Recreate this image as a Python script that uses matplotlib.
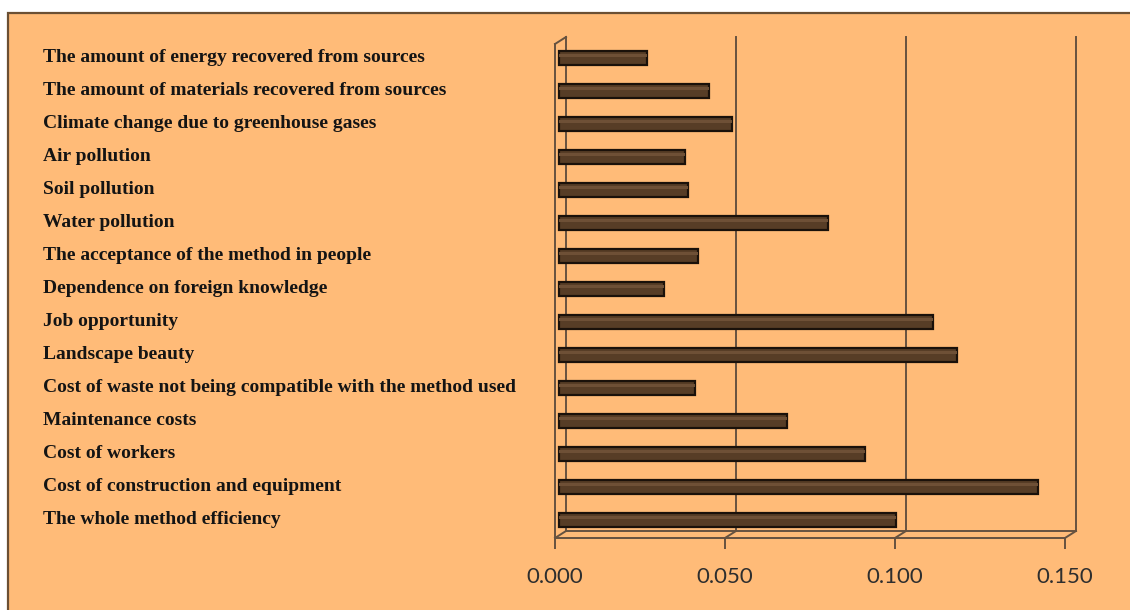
import matplotlib
matplotlib.use("Agg")
import matplotlib.pyplot as plt
import matplotlib.patches as mpatches
import matplotlib.transforms as mtransforms
import numpy as np

# criteria, top to bottom as in the chart
criteria = [
    "The amount of energy recovered from sources",
    "The amount of materials recovered from sources",
    "Climate change due to greenhouse gases",
    "Air pollution",
    "Soil pollution",
    "Water pollution",
    "The acceptance of the method in people",
    "Dependence on foreign knowledge",
    "Job opportunity",
    "Landscape beauty",
    "Cost of waste not being compatible with the method used",
    "Maintenance costs",
    "Cost of workers",
    "Cost of construction and equipment",
    "The whole method efficiency",
]
weights = [0.026, 0.044, 0.051, 0.037, 0.038, 0.079, 0.041, 0.031,
           0.110, 0.117, 0.040, 0.067, 0.090, 0.141, 0.099]
xticks = [0.0, 0.05, 0.10, 0.15]
xticklabels = ["0.000", "0.050", "0.100", "0.150"]

bg = "#FFBB78"
wall = "#665240"
bar_col = "#573d26"
bar_edge = "#1a110a"

W, H = 1130, 610
fig = plt.figure(figsize=(W / 100, H / 100), dpi=100)
fig.patch.set_facecolor("white")

# outer chart area with brown border
frame = mpatches.Rectangle((8 / W, -0.02), 1.05, (H - 13) / H + 0.02,
                           transform=fig.transFigure, facecolor=bg,
                           edgecolor="#6b4f33", linewidth=1.6, zorder=-10)
fig.patches.append(frame)

ax = fig.add_axes([555 / W, 72 / H, 510 / W, 494 / H])
ax.patch.set_alpha(0)
ax.set_xlim(0, 0.15)
ax.set_ylim(14.455, -0.515)
ypos = np.arange(len(criteria))

# pseudo-3D depth offsets (pixels)
back_x, back_y = 11, 7
mid_x, mid_y = 4, 3
xt = ax.get_xaxis_transform()
back_trans = mtransforms.offset_copy(xt, fig=fig, x=back_x, y=back_y, units="dots")
bar_trans = mtransforms.offset_copy(ax.transData, fig=fig, x=mid_x, y=mid_y, units="dots")
dx = 0.15 * back_x / 510
dy = back_y / 494

lw = 1.4
# back wall gridlines + floor diagonals
for x in xticks:
    ax.plot([x, x], [0, 1], transform=back_trans, color=wall, lw=lw, clip_on=False, zorder=1)
    ax.plot([x, x + dx], [0, dy], transform=xt, color=wall, lw=lw, clip_on=False, zorder=1)
ax.plot([0, 0.15], [0, 0], transform=back_trans, color=wall, lw=lw, clip_on=False, zorder=1)
# left side wall
ax.plot([0, 0], [0, 1], transform=xt, color=wall, lw=lw, clip_on=False, zorder=1)
ax.plot([0, dx], [1, 1 + dy], transform=xt, color=wall, lw=lw, clip_on=False, zorder=1)

# bars
ax.barh(ypos, weights, height=0.40, color=bar_col, edgecolor=bar_edge,
        linewidth=1.6, transform=bar_trans, zorder=3)
ax.barh(ypos - 0.08, weights, height=0.10, color="#6e5036", linewidth=0,
        transform=bar_trans, zorder=4)

# axis styling
for s in ["top", "right", "left"]:
    ax.spines[s].set_visible(False)
ax.spines["bottom"].set_color(wall)
ax.spines["bottom"].set_linewidth(lw)
ax.set_xticks(xticks)
ax.set_xticklabels(xticklabels, fontfamily="Lato", fontsize=16, color="#2e2e2e")
ax.tick_params(axis="x", length=8, width=lw, color=wall, pad=13)
ax.set_yticks([])

# category labels, left aligned
lab_trans = mtransforms.blended_transform_factory(fig.transFigure, bar_trans)
for y, name in zip(ypos, criteria):
    ax.text(43 / W, y, name, transform=lab_trans, ha="left", va="center",
            fontfamily="Liberation Serif", fontweight="bold", fontsize=14,
            color="#141414")

fig.savefig("out.png", dpi=100, facecolor=fig.get_facecolor())
